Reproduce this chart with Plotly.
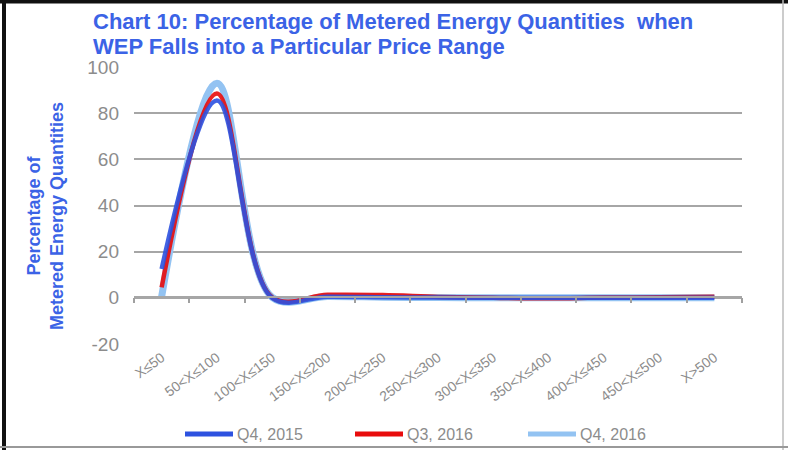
import plotly.graph_objects as go

# Price ranges for the wholesale energy price (WEP)
price_ranges = ["X≤50", "50<X≤100", "100<X≤150", "150<X≤200", "200<X≤250",
                "250<X≤300", "300<X≤350", "350<X≤400", "400<X≤450",
                "450<X≤500", "X>500"]

# Percentage of metered energy quantities per price range
q4_2015 = [12.5, 85.5, 0.0, 0.5, 0.3, 0.1, 0.0, 0.0, 0.0, 0.0, 0.0]
q3_2016 = [4.5, 88.5, 0.2, 1.3, 1.2, 0.4, 0.0, -0.2, 0.1, 0.2, 0.5]
q4_2016 = [0.5, 93.0, 0.2, 0.6, 0.3, 0.1, 0.0, 0.0, 0.0, 0.0, 0.0]

y_ticks = [-20, 0, 20, 40, 60, 80, 100]
y_tick_text = ["-20", "0", "20", "40", "60", "80", "100"]

BLUE = "#2d52e0"
RED = "#e80c0c"
LIGHT = "#93c3f2"
TITLE_BLUE = "#3b63e6"
GREY = "#8c8c8c"
FONT = "Liberation Sans, Arial, sans-serif"

xpos = list(range(len(price_ranges)))

# Plot area geometry (pixels)
L, R, T, B = 134, 742, 67, 344
W, H = 788, 450


def px(xp):
    return (xp - L) / (R - L)


def py(yp):
    return (B - yp) / (B - T)


fig = go.Figure()
# (name, values, colour, width, legend x start)
series = [
    ("Q4, 2016", q4_2016, LIGHT, 7, 528),
    ("Q3, 2016", q3_2016, RED, 4.5, 355),
    ("Q4, 2015", q4_2015, BLUE, 4.5, 185),
]
for name, vals, color, width, _ in series:
    fig.add_trace(go.Scatter(
        x=xpos, y=vals, name=name, mode="lines",
        line=dict(color=color, width=width, shape="spline", smoothing=1.0),
        opacity=0.9 if color != LIGHT else 1.0, showlegend=False,
    ))

# Category boundary tick marks on the zero line
bounds = [i - 0.5 for i in range(len(price_ranges) + 1)]
fig.add_trace(go.Scatter(x=bounds, y=[0] * len(bounds), xaxis="x2",
                         mode="lines", line=dict(width=0), hoverinfo="skip",
                         showlegend=False))

title_font = dict(size=22, color=TITLE_BLUE, family=FONT)
axis_title_font = dict(size=18, color=TITLE_BLUE, family=FONT)

annotations = [
    dict(text="<b>Chart 10: Percentage of Metered Energy Quantities  when</b>",
         xref="paper", yref="paper", x=px(91), y=py(22), xanchor="left",
         yanchor="middle", showarrow=False, font=title_font),
    dict(text="<b>WEP Falls into a Particular Price Range</b>",
         xref="paper", yref="paper", x=px(91), y=py(46), xanchor="left",
         yanchor="middle", showarrow=False, font=title_font),
    dict(text="<b>Percentage of</b><br><b>Metered Energy Quantities</b>",
         textangle=-90, xref="paper", yref="paper", x=px(45), y=py(216),
         xanchor="center", yanchor="middle", showarrow=False,
         font=axis_title_font),
]

shapes = [
    dict(type="line", xref="paper", yref="paper", x0=px(4), x1=px(4),
         y0=py(0), y1=py(450), line=dict(color="#111111", width=4)),
    dict(type="line", xref="paper", yref="paper", x0=px(0), x1=px(788),
         y0=py(1.5), y1=py(1.5), line=dict(color="#111111", width=4)),
    dict(type="line", xref="paper", yref="paper", x0=px(783), x1=px(783),
         y0=py(0), y1=py(450), line=dict(color="#bbbbbb", width=1.5)),
    dict(type="line", xref="paper", yref="paper", x0=px(0), x1=px(788),
         y0=py(447), y1=py(447), line=dict(color="#999999", width=2)),
]

# Legend: a short line sample followed by the series name
LEGEND_Y = 434
for name, _, color, _, x0 in series:
    shapes.append(dict(type="line", xref="paper", yref="paper",
                       x0=px(x0), x1=px(x0 + 48), y0=py(LEGEND_Y),
                       y1=py(LEGEND_Y), line=dict(color=color, width=5)))
    annotations.append(dict(text=name, xref="paper", yref="paper",
                            x=px(x0 + 50), y=py(LEGEND_Y), xanchor="left",
                            yanchor="middle", showarrow=False,
                            font=dict(size=16, color=GREY, family=FONT)))

fig.update_layout(
    width=W, height=H,
    margin=dict(l=L, r=W - R, t=T, b=H - B, autoexpand=False),
    paper_bgcolor="white", plot_bgcolor="white",
    font=dict(family=FONT, color=GREY),
    showlegend=False,
    xaxis=dict(
        range=[-0.5, len(price_ranges) - 0.5],
        tickmode="array", tickvals=xpos, ticktext=price_ranges,
        tickangle=-36, tickfont=dict(size=14, color=GREY),
        showgrid=False, zeroline=False, showline=False, ticks="",
        ticklabelstandoff=2,
    ),
    xaxis2=dict(
        range=[-0.5, len(price_ranges) - 0.5], overlaying="x",
        anchor="free", position=py(297), tickmode="array", tickvals=bounds,
        showticklabels=False, ticks="outside", ticklen=5, tickwidth=1.5,
        tickcolor="#a0a0a0", showline=True, linecolor="#a6a6a6", linewidth=2,
        showgrid=False, zeroline=False,
    ),
    yaxis=dict(
        range=[-20, 100], tickmode="array", tickvals=y_ticks,
        ticktext=y_tick_text,
        tickfont=dict(size=19, color=GREY), ticklabelstandoff=14,
        showgrid=True, gridcolor="#a6a6a6", gridwidth=2,
        zeroline=False, showline=False,
    ),
    annotations=annotations,
    shapes=shapes,
)

fig.write_html("out.html")
